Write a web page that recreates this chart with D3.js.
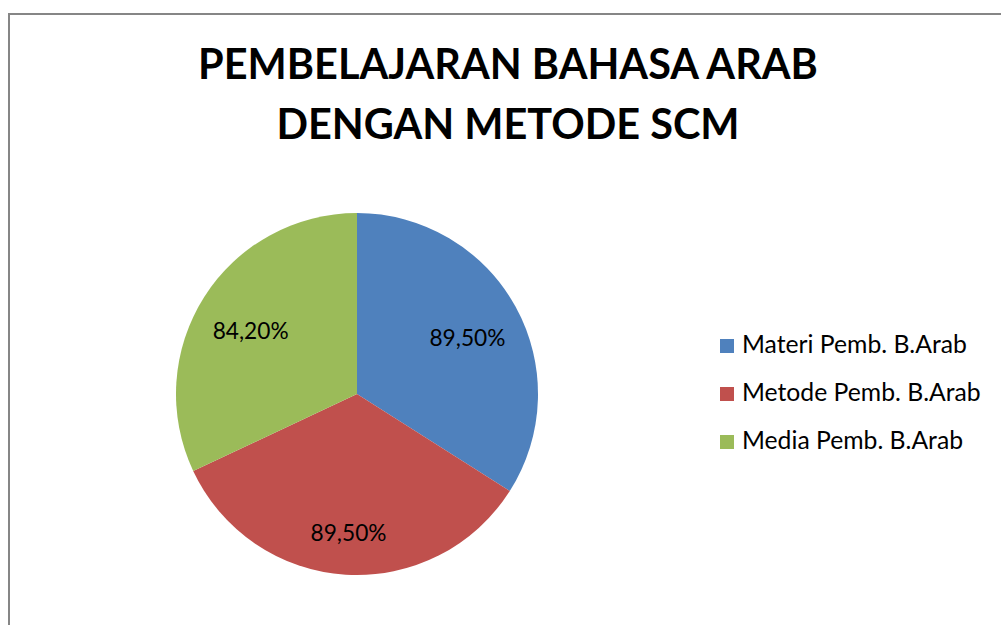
<!DOCTYPE html>
<html><head><meta charset="utf-8">
<script src="https://cdn.jsdelivr.net/npm/d3@7"></script>
<style>body{margin:0;background:#fff}svg{display:block}text{font-family:Lato,"Open Sans",sans-serif}</style>
</head><body>
<svg id="c" width="1001" height="625"></svg>
<script>
const categories = ["Materi Pemb. B.Arab", "Metode Pemb. B.Arab", "Media Pemb. B.Arab"];
const values = [89.5, 89.5, 84.2];
const valueLabels = ["89,50%", "89,50%", "84,20%"];
const colors = ["#4F81BD", "#C0504D", "#9BBB59"];
const titleLines = ["PEMBELAJARAN BAHASA ARAB", "DENGAN METODE SCM"];

const svg = d3.select("#c");
svg.append("path").attr("d", "M9,700 L9,14 L1100,14").attr("fill","none").attr("stroke","#868686").attr("stroke-width",2);

const title = svg.append("text").attr("text-anchor","middle").attr("font-weight","bold").attr("fill","#000");
title.selectAll("tspan").data(titleLines).join("tspan")
  .attr("x", 508).attr("y", (d,i)=> i===0 ? 79 : 139).text(d=>d);
title.attr("font-size", 40);
const w0 = title.select("tspan").node().getComputedTextLength();
title.attr("font-size", 40 * 620 / w0);

const cx = 357, cy = 394, r = 181;
const pie = d3.pie().sort(null).value(d=>d);
const arcs = pie(values);
const arc = d3.arc().innerRadius(0).outerRadius(r);
const labelRadius = [126, 134, 126];
const g = svg.append("g").attr("transform", `translate(${cx},${cy})`);
g.selectAll("path.s").data(arcs).join("path").attr("class","s")
  .attr("d", arc).attr("fill", (d,i)=>colors[i]);
const lbl = g.selectAll("text.l").data(arcs).join("text").attr("class","l")
  .attr("transform", (d,i)=>{const c = d3.arc().innerRadius(labelRadius[i]).outerRadius(labelRadius[i]).centroid(d); return `translate(${c[0]},${c[1]+13})`;})
  .attr("text-anchor","middle").attr("font-size",21).attr("fill","#000")
  .text((d,i)=>valueLabels[i]);
const lw = lbl.node().getComputedTextLength();
lbl.attr("font-size", 21 * 76 / lw);

const leg = svg.append("g");
const items = leg.selectAll("g").data(categories).join("g")
  .attr("transform", (d,i)=>`translate(720,${339 + i*48})`);
items.append("rect").attr("width",14).attr("height",14).attr("fill",(d,i)=>colors[i]);
const lt = items.append("text").attr("x",22).attr("y",14).attr("font-size",21).attr("fill","#000").text(d=>d);
const tw = lt.node().getComputedTextLength();
lt.attr("font-size", 21 * 225 / tw);
</script>
</body></html>
